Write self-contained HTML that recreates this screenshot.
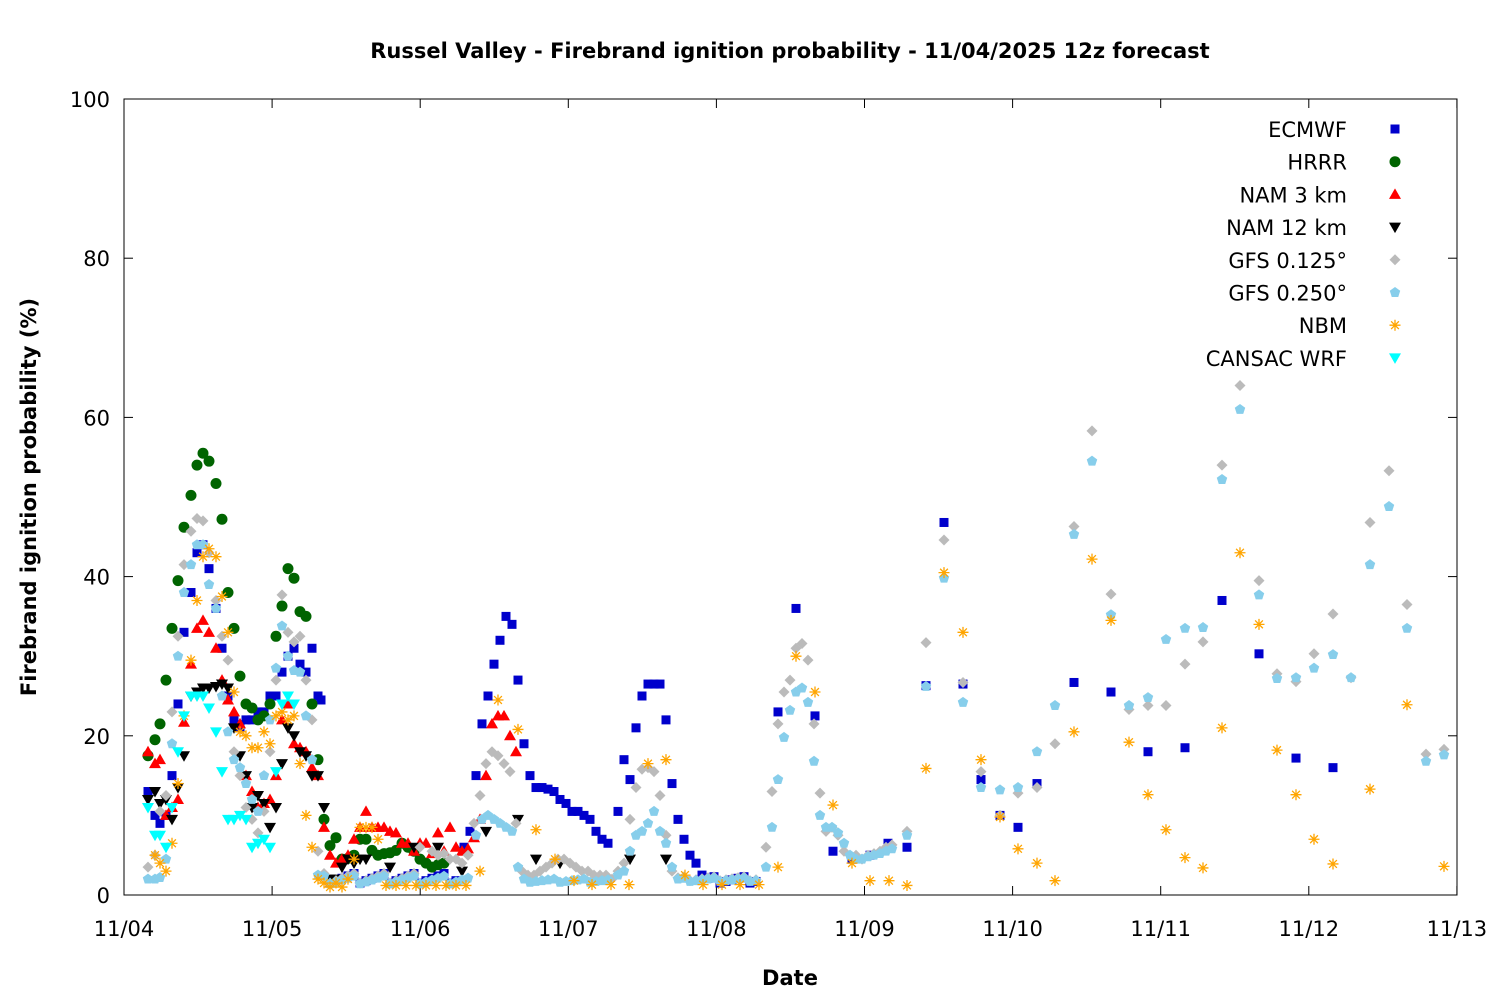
<!DOCTYPE html>
<html><head><meta charset="utf-8"><style>
body{margin:0;background:#fff}
svg text{font-family:"DejaVu Sans","Liberation Sans",sans-serif;fill:#000}
</style></head><body>
<svg id="s" width="1500" height="1000" xmlns="http://www.w3.org/2000/svg">
<rect width="1500" height="1000" fill="#fff"/>
<text x="790" y="58" text-anchor="middle" font-size="21" font-weight="bold">Russel Valley - Firebrand ignition probability - 11/04/2025 12z forecast</text>
<text x="790" y="985" text-anchor="middle" font-size="21" font-weight="bold">Date</text>
<text transform="translate(36,497) rotate(-90)" text-anchor="middle" font-size="21" font-weight="bold">Firebrand ignition probability (%)</text>
<g id="ax"></g>
<g id="pts"></g>
<rect x="124" y="99" width="1333" height="796" fill="none" stroke="#000" stroke-width="1"/>
</svg>
<script>
var NS="http://www.w3.org/2000/svg";
var ax=document.getElementById('ax'),P=document.getElementById('pts');
function el(t,a,p){var e=document.createElementNS(NS,t);for(var k in a)e.setAttribute(k,a[k]);(p||P).appendChild(e);return e;}
function Y(v){return 895-v*7.96;}
for(var v=0;v<=100;v+=20){var y=Y(v);
el('line',{x1:124,y1:y,x2:133,y2:y,stroke:'#000'},ax);el('line',{x1:1448,y1:y,x2:1457,y2:y,stroke:'#000'},ax);
var t=el('text',{x:110,y:y+8,'text-anchor':'end','font-size':21},ax);t.textContent=v;}
var days=['11/04','11/05','11/06','11/07','11/08','11/09','11/10','11/11','11/12','11/13'];
for(var i=0;i<10;i++){var x=124+i*148.1;
el('line',{x1:x,y1:895,x2:x,y2:886,stroke:'#000'},ax);el('line',{x1:x,y1:99,x2:x,y2:108,stroke:'#000'},ax);
var t=el('text',{x:x,y:936,'text-anchor':'middle','font-size':21},ax);t.textContent=days[i];}
function sym(k,x,y){
if(k==0)el('rect',{x:x-4.5,y:y-4.5,width:9,height:9,fill:'#0000cc'});
else if(k==1)el('circle',{cx:x,cy:y,r:5.5,fill:'#006400'});
else if(k==2)el('polygon',{points:(x)+','+(y-6)+' '+(x+6)+','+(y+4.5)+' '+(x-6)+','+(y+4.5),fill:'#ff0000'});
else if(k==3)el('polygon',{points:(x)+','+(y+6)+' '+(x+6)+','+(y-4.5)+' '+(x-6)+','+(y-4.5),fill:'#000'});
else if(k==4)el('polygon',{points:x+','+(y-5.5)+' '+(x+5.5)+','+y+' '+x+','+(y+5.5)+' '+(x-5.5)+','+y,fill:'#bbbbbb'});
else if(k==5){var p=[];for(var j=0;j<5;j++){var a=-Math.PI/2+j*2*Math.PI/5;p.push((x+5.5*Math.cos(a))+','+(y+5.5*Math.sin(a)));}el('polygon',{points:p.join(' '),fill:'#87ceeb'});}
else if(k==6){var d='';for(var j=0;j<4;j++){var a=j*Math.PI/4;d+='M'+(x-5.5*Math.cos(a))+' '+(y-5.5*Math.sin(a))+'L'+(x+5.5*Math.cos(a))+' '+(y+5.5*Math.sin(a));}el('path',{d:d,stroke:'#ffa500','stroke-width':1.3,fill:'none'});}
else if(k==7)el('polygon',{points:(x)+','+(y+6)+' '+(x+6)+','+(y-4.5)+' '+(x-6)+','+(y-4.5),fill:'#00ffff'});
}
function lows(a,b,step,base,amp){var r=[];for(var x=a;x<=b;x+=step){r.push([x,base+amp*((x*37)%10)/10]);}return r;}
var E=[[148,13],[155,10],[160,9],[166,10],[172,15],[178,24],[184,33],[191,38],[197,43],[203,44],[209,41],[216,36],[222,31],[228,25],[234,22],[240,21],[246,22],[252,22],[258,23],[264,23],[270,25],[276,25],[282,28],[288,30],[294,31],[300,29],[306,28],[312,31],[318,25],[321,24.5]].concat(lows(330,460,6,1.5,1.5),[[464,6],[470,8],[476,15],[482,21.5],[488,25],[494,29],[500,32],[506,35],[512,34],[518,27],[524,19],[530,15],[536,13.5],[542,13.5],[548,13.3],[554,13],[560,12],[566,11.5],[572,10.5],[578,10.5],[584,10],[590,9.5],[596,8],[602,7],[608,6.5],[618,10.5],[624,17],[630,14.5],[636,21],[642,25],[648,26.5],[654,26.5],[660,26.5],[666,22],[672,14],[678,9.5],[684,7],[690,5],[696,4],[702,2.5]],lows(708,760,6,1.5,1),[[778,23],[796,36],[815,22.5],[833,5.5],[852,4.5],[870,5],[888,6.5],[907,6],[926,26.3],[944,46.8],[963,26.5],[981,14.5],[1000,10],[1018,8.5],[1037,14],[1074,26.7],[1111,25.5],[1148,18],[1185,18.5],[1222,37],[1259,30.3],[1296,17.2],[1333,16]]);
var H=[[148,17.5],[155,19.5],[160,21.5],[166,27],[172,33.5],[178,39.5],[184,46.2],[191,50.2],[197,54],[203,55.5],[209,54.5],[216,51.7],[222,47.2],[228,38],[234,33.5],[240,27.5],[246,24],[252,23.5],[258,22],[264,22.5],[270,24],[276,32.5],[282,36.3],[288,41],[294,39.8],[300,35.6],[306,35],[312,24],[318,17],[324,9.5],[330,6.2],[336,7.2],[342,4.5],[348,4.6],[354,5],[360,7],[366,7],[372,5.6],[378,5],[384,5.2],[390,5.3],[396,5.6],[402,6.5],[408,6],[414,5.5],[420,4.5],[426,4],[432,3.5],[438,3.8],[444,4]];
var N3=[[148,18],[155,16.5],[160,17],[166,10],[172,11],[178,12],[184,21.7],[191,29],[197,33.5],[203,34.5],[209,33],[216,31],[222,27],[228,24.5],[234,23],[240,21.5],[246,15],[252,13],[258,11],[264,11.5],[270,12],[276,15],[282,22],[288,24],[294,19],[300,18.5],[306,18],[312,16],[318,15],[324,8.5],[330,5],[336,4],[342,4.5],[348,5],[354,7],[360,8.5],[366,10.5],[372,8.5],[378,8.5],[384,8.5],[390,8],[396,7.8],[402,6.5],[408,6.5],[414,5.5],[420,6.5],[426,6.5],[432,5.2],[438,7.8],[444,5.5],[450,8.5],[456,6],[462,5.5],[468,5.8],[474,7.2],[480,9.5],[486,15],[492,21.5],[498,22.5],[504,22.5],[510,20],[516,18]];
var N12=[[148,12],[155,13],[160,11.5],[166,12],[172,9.5],[178,13.5],[184,17.5],[191,25],[197,25.5],[203,26],[209,26],[216,26.2],[222,26.5],[228,26],[234,21],[240,17.5],[246,15],[252,11],[258,12.5],[264,11.5],[270,8.5],[276,11],[282,16.5],[288,21],[294,20],[300,18],[306,17.5],[312,15],[318,15],[324,11],[330,2],[336,2],[342,3.5],[348,4.5],[354,4],[360,4.5],[366,4.5],[390,3.5],[414,6],[438,6],[462,3],[486,8],[518,9.5],[536,4.5],[560,4],[605,2],[630,4.5],[666,4.5]];
var G1=[[148,3.5],[155,5],[160,10.5],[166,12.5],[172,23],[178,32.5],[184,41.5],[191,45.7],[197,47.3],[203,47],[209,43],[216,37],[222,32.5],[228,29.5],[234,18],[240,15],[246,11],[252,9.5],[258,7.8],[264,10.5],[270,18],[276,27],[282,37.7],[288,33],[294,31.8],[300,32.5],[306,27],[312,22],[318,5.5]].concat(lows(324,414,6,1.5,1.5),[[420,6],[432,5.5],[438,5],[444,5.2],[450,4.5],[456,4.5],[462,4],[468,5],[474,9],[480,12.5],[486,16.5],[492,18],[498,17.5],[504,16.5],[510,15.5],[516,9],[522,3],[528,2.5],[534,2.5],[540,3],[546,3.5],[552,4],[558,4.5],[564,4.5],[570,4],[576,3.5],[582,3],[588,3],[594,2.5],[600,2.5],[606,2.5],[612,2],[618,3],[624,4],[630,9.5],[636,13.5],[642,15.8],[648,16],[654,15.5],[660,12.5],[666,7.5],[672,3]],lows(678,760,6,1.8,0.6),[[766,6],[772,13],[778,21.5],[784,25.5],[790,27],[796,31],[802,31.6],[808,29.5],[814,21.5],[820,12.8],[826,8],[832,8.5],[838,7.5],[844,5.5],[850,5],[856,5],[862,4.5],[868,5],[874,5.2],[880,5.5],[886,6],[892,6.3],[907,8],[926,31.7],[944,44.6],[963,26.7],[981,15.5],[1000,10],[1018,12.8],[1037,13.5],[1055,19],[1074,46.3],[1092,58.3],[1111,37.8],[1129,23.3],[1148,23.8],[1166,23.8],[1185,29],[1203,31.8],[1222,54],[1240,64],[1259,39.5],[1277,27.8],[1296,26.8],[1314,30.3],[1333,35.3],[1351,27.3],[1370,46.8],[1389,53.3],[1407,36.5],[1426,17.7],[1444,18.3]]);
var G2=[[148,2],[155,2],[160,2.2],[166,4.5],[172,19],[178,30],[184,38],[191,41.5],[197,44],[203,44],[209,39],[216,36],[222,25],[228,20.5],[234,17],[240,16],[246,14],[252,12],[258,10.5],[264,15],[270,22],[276,28.5],[282,33.8],[288,30],[294,28.2],[300,28],[306,22.5],[312,17],[318,2.5]].concat(lows(324,470,6,1.4,1.2),[[476,7.5],[482,9.5],[488,10],[494,9.5],[500,9],[506,8.5],[512,8],[518,3.5]],lows(524,612,6,1.6,0.5),[[618,2.5],[624,3],[630,5.5],[636,7.5],[642,8],[648,9],[654,10.5],[660,8],[666,6.5],[672,3.5]],lows(678,760,6,1.7,0.5),[[766,3.5],[772,8.5],[778,14.5],[784,19.8],[790,23.2],[796,25.5],[802,26],[808,24.2],[814,16.8],[820,10],[826,8.5],[832,8.5],[838,7.8],[844,6.5],[850,5],[856,4.5],[862,4.5],[868,4.8],[874,5],[880,5.2],[886,5.5],[892,5.8],[907,7.5],[926,26.2],[944,39.8],[963,24.2],[981,13.5],[1000,13.2],[1018,13.5],[1037,18],[1055,23.8],[1074,45.3],[1092,54.5],[1111,35.2],[1129,23.8],[1148,24.8],[1166,32.1],[1185,33.5],[1203,33.6],[1222,52.2],[1240,61],[1259,37.7],[1277,27.2],[1296,27.3],[1314,28.5],[1333,30.2],[1351,27.3],[1370,41.5],[1389,48.8],[1407,33.5],[1426,16.8],[1444,17.6]]);
var NB=[[155,5],[160,4],[166,3],[172,6.5],[178,14],[184,22.5],[191,29.5],[197,37],[203,42.5],[209,43.5],[216,42.5],[222,37.5],[228,33],[234,25.5],[240,20.5],[246,20],[252,18.5],[258,18.5],[264,20.5],[270,19],[276,22.5],[282,23],[288,22],[294,22.5],[300,16.5],[306,10],[312,6],[318,2],[324,1.5],[330,1],[336,1.5],[342,1],[348,2],[354,4.5],[360,8.5],[366,8.5],[372,8.5],[378,7]].concat(lows(386,470,10,1,1),[[480,3],[498,24.5],[518,20.8],[536,8.2],[555,4.5],[574,1.8],[592,1.3],[611,1.3],[629,1.3],[648,16.5],[666,17],[685,2.5],[703,1.3],[722,1.3],[740,1.3],[759,1.3],[778,3.5],[796,30],[815,25.5],[833,11.3],[852,4],[870,1.8],[889,1.8],[907,1.2],[926,15.9],[944,40.5],[963,33],[981,17],[1000,9.8],[1018,5.8],[1037,4],[1055,1.8],[1074,20.5],[1092,42.2],[1111,34.5],[1129,19.2],[1148,12.6],[1166,8.2],[1185,4.7],[1203,3.4],[1222,21],[1240,43],[1259,34],[1277,18.2],[1296,12.6],[1314,7],[1333,3.9],[1370,13.3],[1407,23.9],[1444,3.6]]);
var CW=[[148,11],[155,7.5],[160,7.5],[166,6],[172,11],[178,18],[184,22.5],[191,25],[197,25],[203,25],[209,23.5],[216,20.5],[222,15.5],[228,9.5],[234,9.5],[240,10],[246,9.5],[252,6],[258,6.5],[264,7],[270,6],[276,15.5],[282,24],[288,25],[294,24]];
var S=[E,H,N3,N12,G1,G2,NB,CW];
var names=['ECMWF','HRRR','NAM 3 km','NAM 12 km','GFS 0.125°','GFS 0.250°','NBM','CANSAC WRF'];
S.forEach(function(d,k){d.forEach(function(p){sym(k,p[0],Y(p[1]));});});
names.forEach(function(n,k){var y=129+k*32.7;var t=el('text',{x:1347,y:y+8,'text-anchor':'end','font-size':21});t.textContent=n;sym(k,1395,y);});
</script>
</body></html>
